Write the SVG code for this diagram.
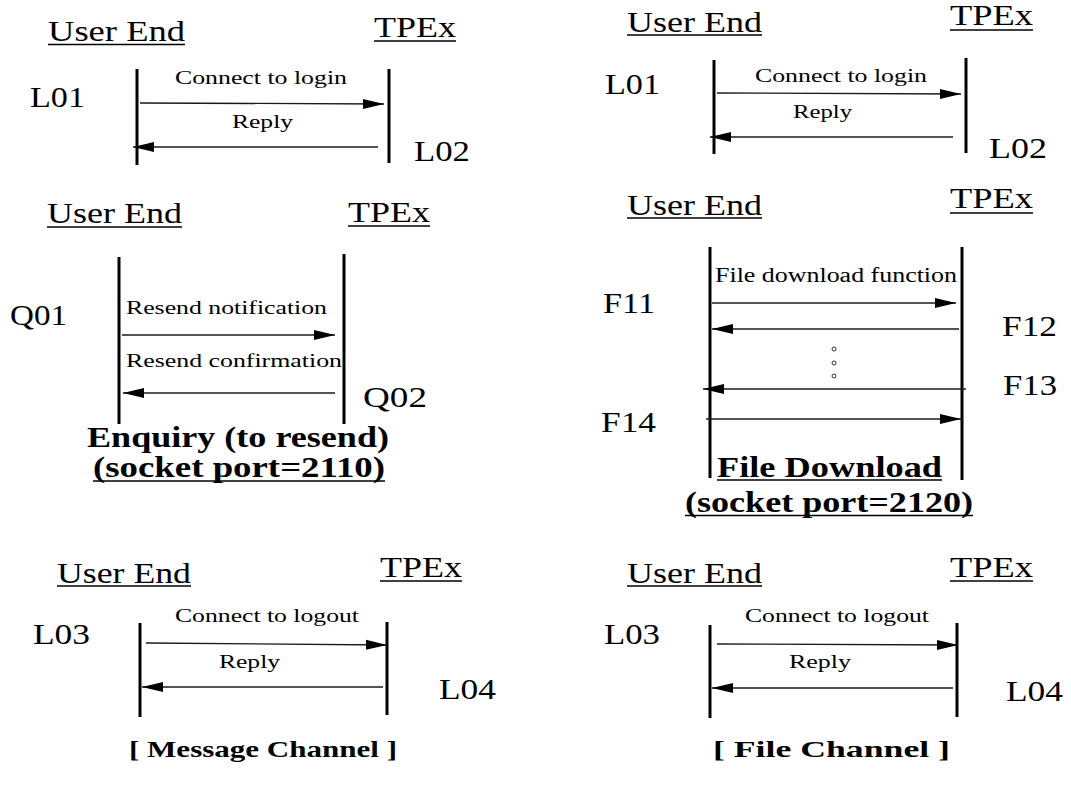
<svg xmlns="http://www.w3.org/2000/svg" width="1071" height="787" viewBox="0 0 1071 787">
<style>
text{fill:#000}
.big{font-size:29px}
.sm{font-size:18px}
.md{font-size:20px}
.b{font-weight:bold}
.life{stroke:#000;stroke-width:3;fill:none}
.msg{stroke:#1a1a1a;stroke-width:1.3;fill:none;marker-end:url(#ah)}
.ul{stroke:#000;stroke-width:1.5}
.dot{fill:none;stroke:#333;stroke-width:1}
</style>
<defs>
<marker id="ah" markerUnits="userSpaceOnUse" markerWidth="22" markerHeight="12" refX="21" refY="5.5" orient="auto">
<path d="M0,0.5 L21,5.5 L0,10.5 z" fill="#000"/>
</marker>
</defs>
<rect width="1071" height="787" fill="#fff"/>
<g font-family="Liberation Serif, Times New Roman, serif">

<!-- Top-left: login (message channel) -->
<g id="tl-user">
<text class="big" x="48" y="41" textLength="137" lengthAdjust="spacingAndGlyphs">User End</text>
<line class="ul" x1="48" y1="44.5" x2="185" y2="44.5"/>
<line class="life" x1="137" y1="69" x2="137" y2="165"/>
</g>
<g id="tl-tpex">
<text class="big" x="374" y="37" textLength="82" lengthAdjust="spacingAndGlyphs">TPEx</text>
<line class="ul" x1="374" y1="41" x2="456" y2="41"/>
<line class="life" x1="389" y1="69" x2="389" y2="163"/>
</g>
<g id="tl-labels">
<text class="big" x="30" y="107" textLength="55" lengthAdjust="spacingAndGlyphs">L01</text>
<text class="big" x="414" y="161" textLength="56" lengthAdjust="spacingAndGlyphs">L02</text>
<text class="sm" x="175" y="84" textLength="172" lengthAdjust="spacingAndGlyphs">Connect to login</text>
<text class="sm" x="232" y="128" textLength="61" lengthAdjust="spacingAndGlyphs">Reply</text>
</g>

<!-- Top-right: login (file channel) -->
<g id="tr-user">
<text class="big" x="627" y="32" textLength="135" lengthAdjust="spacingAndGlyphs">User End</text>
<line class="ul" x1="627" y1="35" x2="762" y2="35"/>
<line class="life" x1="714" y1="60" x2="714" y2="154"/>
</g>
<g id="tr-tpex">
<text class="big" x="950" y="25" textLength="83" lengthAdjust="spacingAndGlyphs">TPEx</text>
<line class="ul" x1="950" y1="30" x2="1033" y2="30"/>
<line class="life" x1="966" y1="58" x2="966" y2="153"/>
</g>
<g id="tr-labels">
<text class="big" x="605" y="94" textLength="55" lengthAdjust="spacingAndGlyphs">L01</text>
<text class="big" x="989" y="158" textLength="58" lengthAdjust="spacingAndGlyphs">L02</text>
<text class="sm" x="755" y="82" textLength="172" lengthAdjust="spacingAndGlyphs">Connect to login</text>
<text class="sm" x="793" y="118" textLength="59" lengthAdjust="spacingAndGlyphs">Reply</text>
</g>

<!-- Middle-left: enquiry -->
<g id="ml-user">
<text class="big" x="47" y="223" textLength="135" lengthAdjust="spacingAndGlyphs">User End</text>
<line class="ul" x1="47" y1="227" x2="182" y2="227"/>
<line class="life" x1="119" y1="257" x2="119" y2="424"/>
</g>
<g id="ml-tpex">
<text class="big" x="348" y="222" textLength="82" lengthAdjust="spacingAndGlyphs">TPEx</text>
<line class="ul" x1="348" y1="226" x2="430" y2="226"/>
<line class="life" x1="344" y1="254" x2="344" y2="424"/>
</g>
<g id="ml-labels">
<text class="big" x="10" y="325" textLength="57" lengthAdjust="spacingAndGlyphs">Q01</text>
<text class="big" x="363" y="407" textLength="64" lengthAdjust="spacingAndGlyphs">Q02</text>
<text class="sm" x="126" y="314" textLength="201" lengthAdjust="spacingAndGlyphs">Resend notification</text>
<text class="sm" x="126" y="367" textLength="216" lengthAdjust="spacingAndGlyphs">Resend confirmation</text>
<text class="big b" x="87" y="447" textLength="302" lengthAdjust="spacingAndGlyphs">Enquiry (to resend)</text>
<text class="big b" x="93" y="477" textLength="292" lengthAdjust="spacingAndGlyphs">(socket port=2110)</text>
<line class="ul" x1="93" y1="481" x2="385" y2="481"/>
</g>

<!-- Middle-right: file download -->
<g id="mr-user">
<text class="big" x="627" y="215" textLength="135" lengthAdjust="spacingAndGlyphs">User End</text>
<line class="ul" x1="627" y1="218" x2="762" y2="218"/>
<line class="life" x1="710" y1="247" x2="710" y2="478"/>
</g>
<g id="mr-tpex">
<text class="big" x="950" y="208" textLength="83" lengthAdjust="spacingAndGlyphs">TPEx</text>
<line class="ul" x1="950" y1="213" x2="1033" y2="213"/>
<line class="life" x1="962" y1="247" x2="962" y2="480"/>
</g>
<g id="mr-labels">
<text class="md" x="715" y="282" textLength="242" lengthAdjust="spacingAndGlyphs">File download function</text>
<text class="big" x="603" y="313" textLength="52" lengthAdjust="spacingAndGlyphs">F11</text>
<text class="big" x="1002" y="336" textLength="55" lengthAdjust="spacingAndGlyphs">F12</text>
<text class="big" x="1003" y="395" textLength="54" lengthAdjust="spacingAndGlyphs">F13</text>
<text class="big" x="601" y="432" textLength="55" lengthAdjust="spacingAndGlyphs">F14</text>
<circle class="dot" cx="834" cy="349" r="2"/>
<circle class="dot" cx="834" cy="363" r="2"/>
<circle class="dot" cx="834" cy="376" r="2"/>
<text class="big b" x="717" y="477" textLength="225" lengthAdjust="spacingAndGlyphs">File Download</text>
<line class="ul" x1="717" y1="480" x2="942" y2="480"/>
<text class="big b" x="685" y="512" textLength="288" lengthAdjust="spacingAndGlyphs">(socket port=2120)</text>
<line class="ul" x1="685" y1="515.5" x2="973" y2="515.5"/>
</g>

<!-- Bottom-left: logout (message channel) -->
<g id="bl-user">
<text class="big" x="57" y="583" textLength="134" lengthAdjust="spacingAndGlyphs">User End</text>
<line class="ul" x1="57" y1="586" x2="191" y2="586"/>
<line class="life" x1="140" y1="623" x2="140" y2="717"/>
</g>
<g id="bl-tpex">
<text class="big" x="380" y="577" textLength="82" lengthAdjust="spacingAndGlyphs">TPEx</text>
<line class="ul" x1="380" y1="581" x2="462" y2="581"/>
<line class="life" x1="387" y1="622" x2="387" y2="715"/>
</g>
<g id="bl-labels">
<text class="big" x="33" y="644" textLength="57" lengthAdjust="spacingAndGlyphs">L03</text>
<text class="big" x="439" y="699" textLength="57" lengthAdjust="spacingAndGlyphs">L04</text>
<text class="sm" x="175" y="622" textLength="184" lengthAdjust="spacingAndGlyphs">Connect to logout</text>
<text class="sm" x="219" y="668" textLength="61" lengthAdjust="spacingAndGlyphs">Reply</text>
<text class="b" font-size="24" x="129" y="757" textLength="268" lengthAdjust="spacingAndGlyphs">[ Message Channel ]</text>
</g>

<!-- Bottom-right: logout (file channel) -->
<g id="br-user">
<text class="big" x="627" y="583" textLength="135" lengthAdjust="spacingAndGlyphs">User End</text>
<line class="ul" x1="627" y1="586" x2="762" y2="586"/>
<line class="life" x1="710" y1="625" x2="710" y2="718"/>
</g>
<g id="br-tpex">
<text class="big" x="950" y="577" textLength="83" lengthAdjust="spacingAndGlyphs">TPEx</text>
<line class="ul" x1="950" y1="581" x2="1033" y2="581"/>
<line class="life" x1="957" y1="623" x2="957" y2="717"/>
</g>
<g id="br-labels">
<text class="big" x="604" y="644" textLength="56" lengthAdjust="spacingAndGlyphs">L03</text>
<text class="big" x="1006" y="701" textLength="57" lengthAdjust="spacingAndGlyphs">L04</text>
<text class="sm" x="745" y="622" textLength="184" lengthAdjust="spacingAndGlyphs">Connect to logout</text>
<text class="sm" x="789" y="668" textLength="62" lengthAdjust="spacingAndGlyphs">Reply</text>
<text class="b" font-size="24" x="713" y="757" textLength="237" lengthAdjust="spacingAndGlyphs">[ File Channel ]</text>
</g>
</g>

<g id="connectors">
<line class="msg" x1="140" y1="103" x2="384" y2="104"/>
<line class="msg" x1="378" y1="147" x2="133" y2="147"/>
<line class="msg" x1="717" y1="93" x2="961" y2="94"/>
<line class="msg" x1="953" y1="137" x2="710" y2="137"/>
<line class="msg" x1="122" y1="335" x2="335" y2="335"/>
<line class="msg" x1="335" y1="393" x2="123" y2="393"/>
<line class="msg" x1="712" y1="303" x2="956" y2="303"/>
<line class="msg" x1="959" y1="329" x2="712" y2="329"/>
<line class="msg" x1="966" y1="389" x2="703" y2="389"/>
<line class="msg" x1="706" y1="419" x2="961" y2="419"/>
<line class="msg" x1="146" y1="643" x2="387" y2="645"/>
<line class="msg" x1="383" y1="687" x2="142" y2="687"/>
<line class="msg" x1="717" y1="644" x2="958" y2="645"/>
<line class="msg" x1="953" y1="688" x2="712" y2="688"/>
</g>
</svg>
